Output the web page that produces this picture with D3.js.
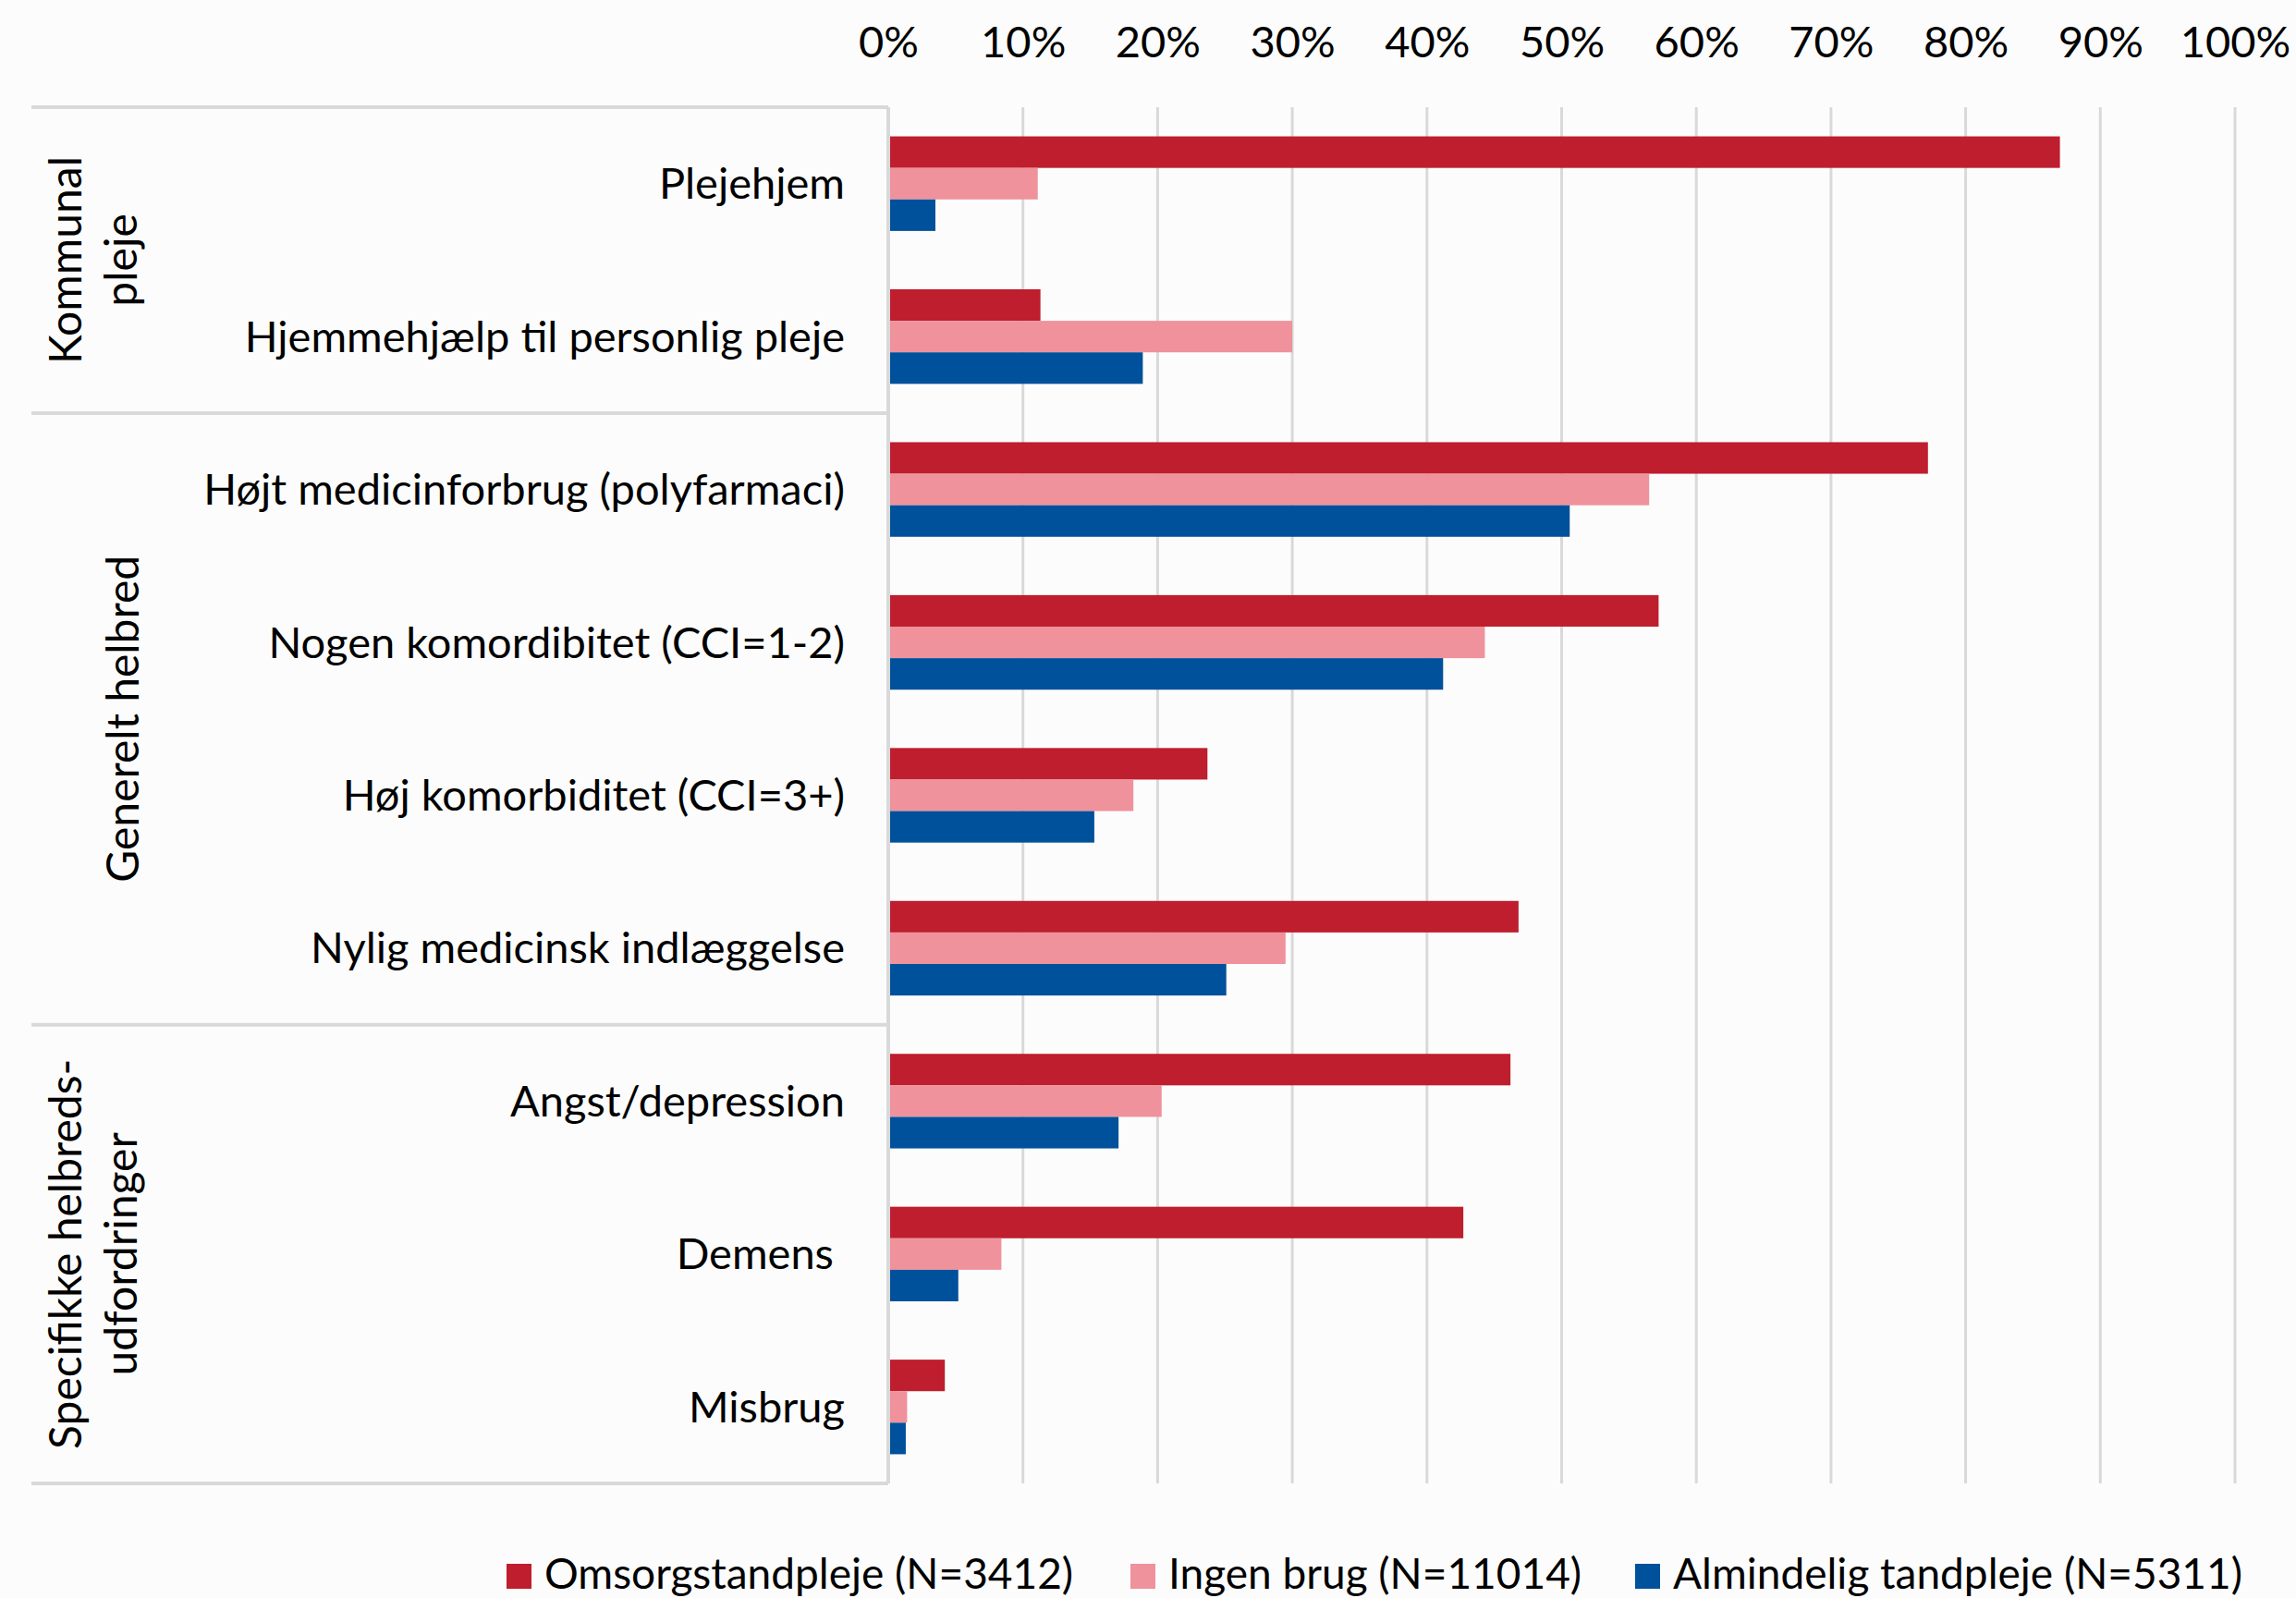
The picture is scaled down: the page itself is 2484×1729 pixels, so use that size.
<!DOCTYPE html>
<html>
<head>
<meta charset="utf-8">
<script src="https://cdn.jsdelivr.net/npm/d3@7"></script>
<style>
  html, body { margin: 0; padding: 0; background: #fcfcfc; }
  svg { display: block; }
  text { font-family: Lato, "Liberation Sans", sans-serif; fill: #000; }
</style>
</head>
<body>
<div id="chart"></div>
<script>
// categories (top to bottom) and the group each belongs to
var categories = [
  "Plejehjem",
  "Hjemmehjælp til personlig pleje",
  "Højt medicinforbrug (polyfarmaci)",
  "Nogen komordibitet (CCI=1-2)",
  "Høj komorbiditet (CCI=3+)",
  "Nylig medicinsk indlæggelse",
  "Angst/depression",
  "Demens\u00a0",
  "Misbrug"
];
var groupNames = [["Kommunal", "pleje"], ["Generelt helbred"], ["Specifikke helbreds-", "udfordringer"]];
var groupSizes = [2, 4, 3];

var seriesNames = ["Omsorgstandpleje (N=3412)", "Ingen brug (N=11014)", "Almindelig tandpleje (N=5311)"];
var seriesColors = ["#be1e2d", "#ef929c", "#00519b"];

var omsorg    = [0.870, 0.113, 0.772, 0.572, 0.237, 0.468, 0.462, 0.427, 0.042];
var ingenBrug = [0.111, 0.300, 0.565, 0.443, 0.182, 0.295, 0.203, 0.084, 0.014];
var almindelig= [0.035, 0.189, 0.506, 0.412, 0.153, 0.251, 0.171, 0.052, 0.013];
var seriesValues = [omsorg, ingenBrug, almindelig];

var tickValues = [0, 0.1, 0.2, 0.3, 0.4, 0.5, 0.6, 0.7, 0.8, 0.9, 1.0];

var W = 2484, H = 1729;
var plotTop = 116, plotBottom = 1605, tableLeft = 34;
var x0 = 961, x1 = 2418;

var svg = d3.select("#chart").append("svg")
  .attr("width", W).attr("height", H);

var x = d3.scaleLinear().domain([0, 1]).range([x0, x1]);
var y = d3.scaleBand().domain(d3.range(categories.length)).range([plotTop, plotBottom]).padding(0);
var ySub = d3.scaleBand().domain(d3.range(seriesNames.length)).range([0, y.bandwidth()])
  .paddingInner(0).paddingOuter(0.925);

// gridlines
svg.append("g").selectAll("line")
  .data(tickValues.slice(1))
  .enter().append("line")
  .attr("x1", function(d) { return x(d); }).attr("x2", function(d) { return x(d); })
  .attr("y1", plotTop).attr("y2", plotBottom)
  .attr("stroke", "#d9d9d9").attr("stroke-width", 3);

// top axis labels
var axis = d3.axisTop(x).tickValues(tickValues).tickFormat(d3.format(".0%")).tickSize(0).tickPadding(0);
var ax = svg.append("g").attr("transform", "translate(0,62)").call(axis);
ax.select(".domain").remove();
ax.selectAll("text").attr("font-size", 47).style("font-family", "Lato, 'Liberation Sans', sans-serif").attr("fill", "#000");

// bars
seriesValues.forEach(function(vals, s) {
  svg.append("g").selectAll("rect")
    .data(vals)
    .enter().append("rect")
    .attr("x", x(0))
    .attr("y", function(d, i) { return y(i) + ySub(s); })
    .attr("width", function(d) { return x(d) - x(0); })
    .attr("height", ySub.bandwidth())
    .attr("fill", seriesColors[s]);
});

// vertical axis line
svg.append("line")
  .attr("x1", x0).attr("x2", x0).attr("y1", plotTop).attr("y2", plotBottom)
  .attr("stroke", "#d9d9d9").attr("stroke-width", 4);

// table horizontal lines (top, group separators, bottom)
var cuts = [0];
groupSizes.forEach(function(n, i) { cuts.push(cuts[i] + n); });
svg.append("g").selectAll("line")
  .data(cuts)
  .enter().append("line")
  .attr("x1", tableLeft).attr("x2", x0)
  .attr("y1", function(c) { return c < categories.length ? y(c) : plotBottom; })
  .attr("y2", function(c) { return c < categories.length ? y(c) : plotBottom; })
  .attr("stroke", "#d9d9d9").attr("stroke-width", 4);

// category labels
svg.append("g").selectAll("text")
  .data(categories)
  .enter().append("text")
  .attr("x", 914)
  .attr("y", function(d, i) { return y(i) + y.bandwidth() / 2; })
  .attr("dy", "0.35em")
  .attr("text-anchor", "end")
  .attr("font-size", 47)
  .text(function(d) { return d; });

// group labels (rotated)
var lineBase = [88, 148];
groupNames.forEach(function(lines, g) {
  var cy = (y(cuts[g]) + (cuts[g + 1] < categories.length ? y(cuts[g + 1]) : plotBottom)) / 2;
  var bases = lines.length === 2 ? lineBase : [150];
  lines.forEach(function(line, k) {
    svg.append("text")
      .attr("transform", "translate(" + bases[k] + "," + cy + ") rotate(-90)")
      .attr("text-anchor", "middle")
      .attr("font-size", 48)
      .text(line);
  });
});

// legend
var legendX = [548, 1223, 1769];
var lg = svg.append("g").attr("transform", "translate(0,1719)");
seriesNames.forEach(function(name, s) {
  var item = lg.append("g").attr("transform", "translate(" + legendX[s] + ",0)");
  item.append("rect").attr("x", 0).attr("y", -27).attr("width", 27).attr("height", 27)
    .attr("fill", seriesColors[s]);
  item.append("text").attr("x", 41).attr("y", 0).attr("font-size", 46).text(name);
});
</script>
</body>
</html>
